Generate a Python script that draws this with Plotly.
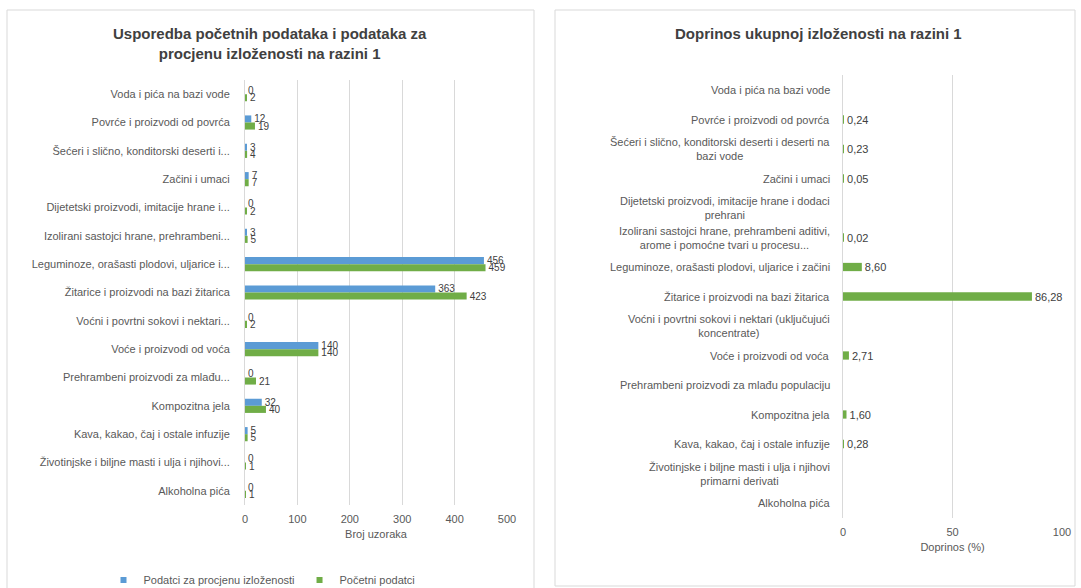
import plotly.graph_objects as go

categories = [
    "Voda i pića na bazi vode",
    "Povrće i proizvodi od povrća",
    "Šećeri i slično, konditorski deserti i deserti na bazi vode",
    "Začini i umaci",
    "Dijetetski proizvodi, imitacije hrane i dodaci prehrani",
    "Izolirani sastojci hrane, prehrambeni aditivi, arome i pomoćne tvari u procesu",
    "Leguminoze, orašasti plodovi, uljarice i začini",
    "Žitarice i proizvodi na bazi žitarica",
    "Voćni i povrtni sokovi i nektari (uključujući koncentrate)",
    "Voće i proizvodi od voća",
    "Prehrambeni proizvodi za mlađu populaciju",
    "Kompozitna jela",
    "Kava, kakao, čaj i ostale infuzije",
    "Životinjske i biljne masti i ulja i njihovi primarni derivati",
    "Alkoholna pića",
]

left_labels = [
    "Voda i pića na bazi vode",
    "Povrće i proizvodi od povrća",
    "Šećeri i slično, konditorski deserti i...",
    "Začini i umaci",
    "Dijetetski proizvodi, imitacije hrane i...",
    "Izolirani sastojci hrane, prehrambeni...",
    "Leguminoze, orašasti plodovi, uljarice i...",
    "Žitarice i proizvodi na bazi žitarica",
    "Voćni i povrtni sokovi i nektari...",
    "Voće i proizvodi od voća",
    "Prehrambeni proizvodi za mlađu...",
    "Kompozitna jela",
    "Kava, kakao, čaj i ostale infuzije",
    "Životinjske i biljne masti i ulja i njihovi...",
    "Alkoholna pića",
]

right_labels = [
    "Voda i pića na bazi vode",
    "Povrće i proizvodi od povrća",
    "Šećeri i slično, konditorski deserti i deserti na<br>bazi vode",
    "Začini i umaci",
    "Dijetetski proizvodi, imitacije hrane i dodaci<br>prehrani",
    "Izolirani sastojci hrane, prehrambeni aditivi,<br>arome i pomoćne tvari u procesu...",
    "Leguminoze, orašasti plodovi, uljarice i začini",
    "Žitarice i proizvodi na bazi žitarica",
    "Voćni i povrtni sokovi i nektari (uključujući<br>koncentrate)",
    "Voće i proizvodi od voća",
    "Prehrambeni proizvodi za mlađu populaciju",
    "Kompozitna jela",
    "Kava, kakao, čaj i ostale infuzije",
    "Životinjske i biljne masti i ulja i njihovi<br>primarni derivati",
    "Alkoholna pića",
]

exposure_samples = [0, 12, 3, 7, 0, 3, 456, 363, 0, 140, 0, 32, 5, 0, 0]
initial_samples = [2, 19, 4, 7, 2, 5, 459, 423, 2, 140, 21, 40, 5, 1, 1]
contribution = [None, 0.24, 0.23, 0.05, None, 0.02, 8.60, 86.28, None, 2.71, None, 1.60, 0.28, None, None]

series_names = ["Podatci za procjenu izloženosti", "Početni podatci"]
left_title = "Usporedba početnih podataka i podataka za<br>procjenu izloženosti na razini 1"
right_title = "Doprinos ukupnoj izloženosti na razini 1"

BLUE = "#5B9BD5"
GREEN = "#70AD47"
GRID = "#d9d9d9"
TXT = "#595959"
FONT = "Liberation Sans"

W, H = 1081, 588


def fx(px):
    return px / W


def fy(py):
    return 1 - py / H


fig = go.Figure()

for vals, name, col in [(exposure_samples, series_names[0], BLUE),
                        (initial_samples, series_names[1], GREEN)]:
    fig.add_trace(go.Bar(
        y=categories, x=vals, orientation="h", name=name,
        marker=dict(color=col, line=dict(width=0)),
        text=vals, textposition="outside", cliponaxis=False,
        constraintext="none",
        textfont=dict(size=10, color="#404040", family=FONT),
        showlegend=False, xaxis="x", yaxis="y",
    ))
    fig.add_trace(go.Scatter(
        x=[None], y=[None], mode="markers", name=name,
        marker=dict(symbol="square", size=6, color=col),
        xaxis="x", yaxis="y", showlegend=True,
    ))

fig.add_trace(go.Bar(
    y=categories, x=contribution, orientation="h", name="Doprinos",
    marker=dict(color=GREEN, line=dict(width=0)),
    texttemplate="%{x:.2f}", textposition="outside", cliponaxis=False,
    constraintext="none", width=0.28,
    textfont=dict(size=11, color="#404040", family=FONT),
    showlegend=False, xaxis="x2", yaxis="y2",
))

axis_font = dict(size=11, color=TXT, family=FONT)

annotations = [
    dict(text=left_title, x=fx(270), y=fy(44), xref="paper", yref="paper",
         xanchor="center", yanchor="middle", showarrow=False, align="center",
         font=dict(size=15, color="#404040", family=FONT, weight="bold")),
    dict(text=right_title, x=fx(818), y=fy(34), xref="paper", yref="paper",
         xanchor="center", yanchor="middle", showarrow=False, align="center",
         font=dict(size=15, color="#404040", family=FONT, weight="bold")),
]
for cat, lab in zip(categories, right_labels):
    annotations.append(dict(
        text=lab, x=fx(832), xref="paper", y=cat, yref="y2",
        xanchor="right", yanchor="middle", align="center", showarrow=False,
        font=axis_font,
    ))

shapes = [
    dict(type="rect", xref="paper", yref="paper",
         x0=fx(7), x1=fx(534), y0=fy(595), y1=fy(10),
         line=dict(color=GRID, width=1)),
    dict(type="rect", xref="paper", yref="paper",
         x0=fx(555), x1=fx(1075), y0=fy(586), y1=fy(10),
         line=dict(color=GRID, width=1)),
]

fig.update_layout(
    width=W, height=H,
    margin=dict(l=0, r=0, t=0, b=0, autoexpand=False),
    paper_bgcolor="white", plot_bgcolor="white",
    font=dict(family=FONT, size=11, color=TXT),
    separators=",.",
    barmode="group", bargap=0.5, bargroupgap=0,
    xaxis=dict(domain=[fx(245), fx(507)], range=[0, 500], dtick=100,
               showgrid=True, gridcolor=GRID, gridwidth=1, zeroline=False,
               showline=False, ticks="", tickfont=axis_font,
               ticklabelstandoff=6, anchor="y", automargin=False,
               title=dict(text="Broj uzoraka", font=axis_font, standoff=6)),
    yaxis=dict(domain=[fy(505), fy(80)], autorange="reversed",
               type="category", tickvals=categories, ticktext=left_labels,
               showline=True, linecolor=GRID, linewidth=1, ticks="",
               showgrid=False, tickfont=axis_font, ticklabelstandoff=12,
               anchor="x", automargin=False),
    xaxis2=dict(domain=[fx(843), fx(1062)], range=[0, 100], dtick=50,
                showgrid=True, gridcolor=GRID, gridwidth=1, zeroline=False,
                showline=False, ticks="", tickfont=axis_font,
                ticklabelstandoff=6, anchor="y2", automargin=False,
                title=dict(text="Doprinos (%)", font=axis_font, standoff=6)),
    yaxis2=dict(domain=[fy(517.75), fy(75.25)], autorange="reversed",
                type="category", showticklabels=False,
                showline=True, linecolor=GRID, linewidth=1, ticks="",
                showgrid=False, anchor="x2", automargin=False),
    legend=dict(orientation="h", x=fx(262), xanchor="center",
                y=fy(580), yanchor="middle", font=axis_font,
                itemwidth=30, bgcolor="rgba(0,0,0,0)", tracegroupgap=0),
    annotations=annotations,
    shapes=shapes,
)

fig.write_html(
    "out.html",
    config={"displayModeBar": False},
    post_script="document.body.style.margin='0';document.body.style.overflow='hidden';",
)
